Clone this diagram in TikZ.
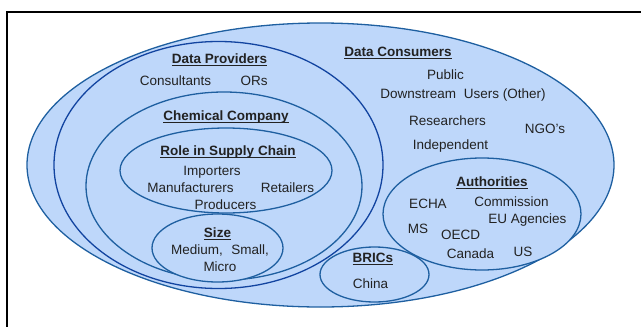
\documentclass[tikz,border=0pt]{standalone}
\usepackage{fontspec}
\setmainfont{Liberation Sans}
\definecolor{setfill}{RGB}{190,215,250}
\definecolor{setline}{RGB}{30,95,160}
\definecolor{setlinedark}{RGB}{18,68,160}
\definecolor{txt}{RGB}{34,34,34}
% underline at a fixed depth below the baseline
\newcommand\headline[1]{\setbox0\hbox{#1}\rlap{\rule[-2.2pt]{\wd0}{1.1pt}}\box0}
\begin{document}
\begin{tikzpicture}[x=1pt,y=-1pt,
  setshape/.style={fill=setfill,draw=setline,line width=1.3pt},
  lbl/.style={inner sep=0pt,text=txt,font=\fontsize{13.5}{16}\selectfont},
  head/.style={lbl,font=\fontsize{13.5}{16}\selectfont\bfseries}]
\useasboundingbox (0,0) rectangle (641,327);
% frame
\draw[line width=2pt] (7,327) -- (7,12) -- (641,12);
% nested sets
\draw[setshape] (320.5,165) ellipse [x radius=293.5pt, y radius=142pt];
\draw[setshape,draw=setlinedark] (218.5,165) ellipse [x radius=164.5pt, y radius=123.5pt];
\draw[setshape] (224,186) ellipse [x radius=138pt, y radius=94pt];
\draw[setshape] (226,170.5) ellipse [x radius=106pt, y radius=42.5pt];
\draw[setshape] (217.5,248) ellipse [x radius=65.5pt, y radius=34pt];
\draw[setshape] (482,214) ellipse [x radius=99pt, y radius=56pt];
\draw[setshape] (374.5,274.5) ellipse [x radius=54.5pt, y radius=27.5pt];
% Data Providers
\node[head] (dp) at (219.5,60) {\headline{Data Providers}};
\node[lbl] (cons) at (175.5,81) {Consultants};
\node[lbl] (ors) at (254,81) {ORs};
% Chemical Company
\node[head] (cc) at (226,117) {\headline{Chemical Company}};
\node[head] (role) at (228,152) {\headline{Role in Supply Chain}};
\node[lbl] (imp) at (212,172) {Importers};
\node[lbl] (man) at (190.5,188) {Manufacturers};
\node[lbl] (ret) at (287.5,188) {Retailers};
\node[lbl] (prod) at (225.5,205) {Producers};
\node[head] (size) at (217.5,234) {\headline{Size}};
\node[lbl] (msm) at (220,250) {Medium,\hspace{0.35em} Small,};
\node[lbl] (micro) at (220,267) {Micro};
% Data Consumers
\node[head] (dc) at (398,53) {\headline{Data Consumers}};
\node[lbl] (pub) at (445.5,75) {Public};
\node[lbl] (down) at (463,95) {Downstream\hspace{0.3em} Users (Other)};
\node[lbl] (res) at (447.5,121) {Researchers};
\node[lbl] (ngo) at (545,129) {NGO's};
\node[lbl] (ind) at (450.5,146) {Independent};
% Authorities
\node[head] (auth) at (492,183) {\headline{Authorities}};
\node[lbl] (echa) at (428,204) {ECHA};
\node[lbl] (comm) at (511.5,202) {Commission};
\node[lbl] (eua) at (527.5,220) {EU Agencies};
\node[lbl] (ms) at (418,229) {MS};
\node[lbl] (oecd) at (460.5,235) {OECD};
\node[lbl] (can) at (470.5,254) {Canada};
\node[lbl] (us) at (523,252) {US};
% BRICs
\node[head] (brics) at (373,259) {\headline{BRICs}};
\node[lbl] (china) at (370.5,284) {China};
\end{tikzpicture}
\end{document}
